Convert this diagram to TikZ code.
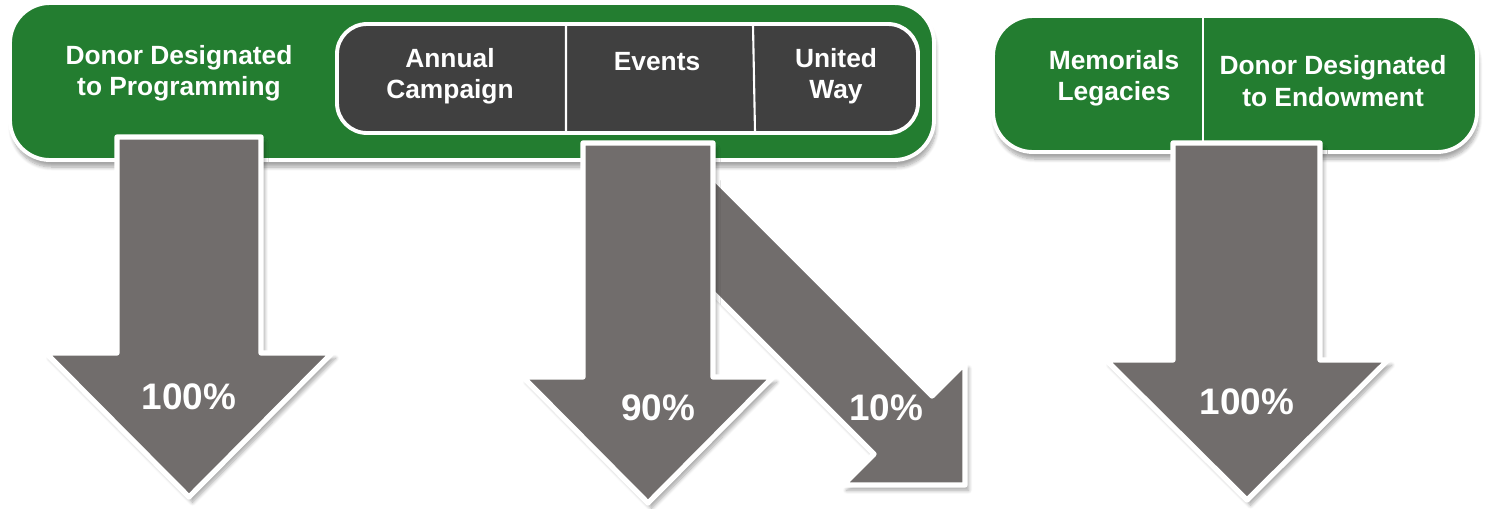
\documentclass[tikz,border=0pt]{standalone}
\usepackage{fontspec}
\setmainfont{Liberation Sans}
\usetikzlibrary{positioning,calc,shadows.blur}

\definecolor{fundgreen}{RGB}{35,125,48}
\definecolor{fundgray}{RGB}{64,64,64}
\definecolor{flowgray}{RGB}{113,109,108}

\tikzset{
  panel/.style={fill=fundgreen, draw=white, line width=2.2pt, rounded corners=0.8cm,
    blur shadow={shadow xshift=1pt, shadow yshift=-4pt, shadow blur steps=8, shadow opacity=35}},
  inner/.style={fill=fundgray, draw=white, line width=2.2pt, rounded corners=0.6cm},
  flow/.style={fill=flowgray, draw=white, line width=3pt, line join=round,
    blur shadow={shadow xshift=2pt, shadow yshift=-3pt, shadow blur steps=8, shadow opacity=35}},
  head/.style={text=white, font=\bfseries\fontsize{15}{17.8}\selectfont, align=center},
  pct/.style={text=white, font=\bfseries\fontsize{21}{25}\selectfont}
}

\begin{document}
\begin{tikzpicture}[x=0.02cm, y=-0.02cm]
\useasboundingbox (0,0) rectangle (1487,508);
% funding sources
\draw[panel] (10,3) rectangle (934,160);
\draw[inner] (337,24) rectangle (918,133);
\draw[white, line width=1.2pt] (566,25)--(566,132) (753,25)--(755,132);
\draw[panel] (993,16) rectangle (1477,152);
\draw[white, line width=1.2pt] (1203,17)--(1203,151);
% split to united way
\draw[flow] (700,164)--(932,396)--(965,363)--(965,485)--(843,485)--(874,454)--(700,280)--cycle;
% straight flows
\draw[flow] (117,137)--(261,137)--(261,353)--(332,353)--(189,497)--(46,353)--(117,353)--cycle;
\draw[flow] (583,143)--(713,143)--(713,377)--(773,377)--(648,503)--(523,377)--(583,377)--cycle;
\draw[flow] (1173,143)--(1320,143)--(1320,360)--(1388,360)--(1247,500)--(1106,360)--(1173,360)--cycle;
% texts
\node[head] (prog) at (179,73) {Donor Designated\\to Programming};
\node[head] (annual) at (450,76) {Annual\\Campaign};
\node[head] (events) at (657,62) {Events};
\node[head] (uway) at (836,76) {United\\Way};
\node[head] (memo) at (1114,78) {Memorials\\Legacies};
\node[head] (endow) at (1333,81) {Donor Designated\\to Endowment};
\node[pct] (p1) at (189,397) {100\%};
\node[pct] (p2) at (658,408) {90\%};
\node[pct] (p3) at (886,408) {10\%};
\node[pct] (p4) at (1247,402) {100\%};
\end{tikzpicture}
\end{document}
